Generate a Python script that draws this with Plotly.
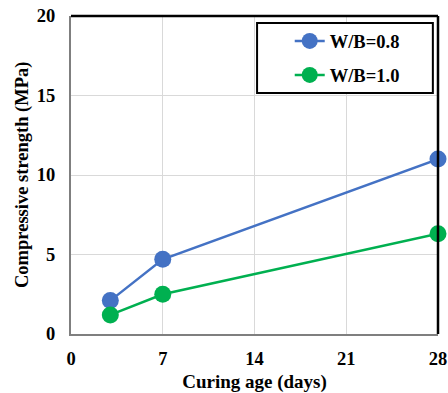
import plotly.graph_objects as go

days = [3, 7, 28]
wb08 = [2.1, 4.7, 11.0]
wb10 = [1.2, 2.5, 6.3]
names = ["W/B=0.8", "W/B=1.0"]
colors = ["#4472C4", "#00B050"]
x_ticks = [0, 7, 14, 21, 28]
y_ticks = [0, 5, 10, 15, 20]

FAM = "Liberation Serif"
font = dict(family=FAM, size=16, color="black", weight="bold")

fig = go.Figure()
for i, (ys, nm, c) in enumerate(zip([wb08, wb10], names, colors)):
    fig.add_trace(go.Scatter(x=days, y=ys, name=nm, mode="lines+markers",
                             legendgroup=f"g{i}",
                             line=dict(color=c, width=2.5),
                             marker=dict(color=c, size=17),
                             cliponaxis=False))

fig.update_layout(
    width=448, height=393,
    margin=dict(l=71, r=10, t=16, b=59),
    paper_bgcolor="white", plot_bgcolor="white",
    font=font,
    showlegend=True,
    legend=dict(x=0.596, y=0.98, xanchor="left", yanchor="top",
                borderwidth=0, bgcolor="rgba(0,0,0,0)",
                font=dict(family=FAM, size=18.5, color="black", weight="bold"),
                tracegroupgap=7),
    xaxis=dict(range=[0, 28], tickvals=x_ticks, ticktext=[f"<b>{v}</b>" for v in x_ticks],
               showgrid=True, gridcolor="#d9d9d9", gridwidth=1.3,
               showline=True, linecolor="#7f7f7f", linewidth=2,
               zeroline=False, ticks="", ticklen=0, automargin=False,
               ticklabelstandoff=7,
               tickfont=dict(family=FAM, size=18.5, weight="bold", color="black"),
               title=dict(text="Curing age (days)", font=dict(family=FAM, size=19, weight="bold"))),
    yaxis=dict(range=[0, 20], tickvals=y_ticks, ticktext=[f"<b>{v}</b>" for v in y_ticks],
               showgrid=True, gridcolor="#d9d9d9", gridwidth=1.3,
               showline=True, linecolor="#7f7f7f", linewidth=2,
               zeroline=False, ticks="", ticklen=0, automargin=False,
               ticklabelstandoff=10,
               tickfont=dict(family=FAM, size=18.5, weight="bold", color="black")),
)
fig.add_annotation(text="Compressive strength (MPa)", xref="paper", yref="paper",
                   x=-71/367 + 22/367, y=0.5, xanchor="center", yanchor="middle",
                   textangle=-90, showarrow=False,
                   font=dict(family=FAM, size=18.5, weight="bold", color="black"))
fig.add_shape(type="line", xref="paper", yref="paper", x0=0, x1=1, y0=1, y1=1,
              line=dict(color="black", width=2.5))
fig.add_shape(type="line", xref="paper", yref="paper", x0=1, x1=1, y0=0, y1=1,
              line=dict(color="black", width=2.5))
fig.add_shape(type="rect", xref="paper", yref="paper", x0=0.507, x1=0.986, y0=0.758, y1=0.978,
              line=dict(color="black", width=2), fillcolor="white", layer="above")

fig.write_html("out.html")
